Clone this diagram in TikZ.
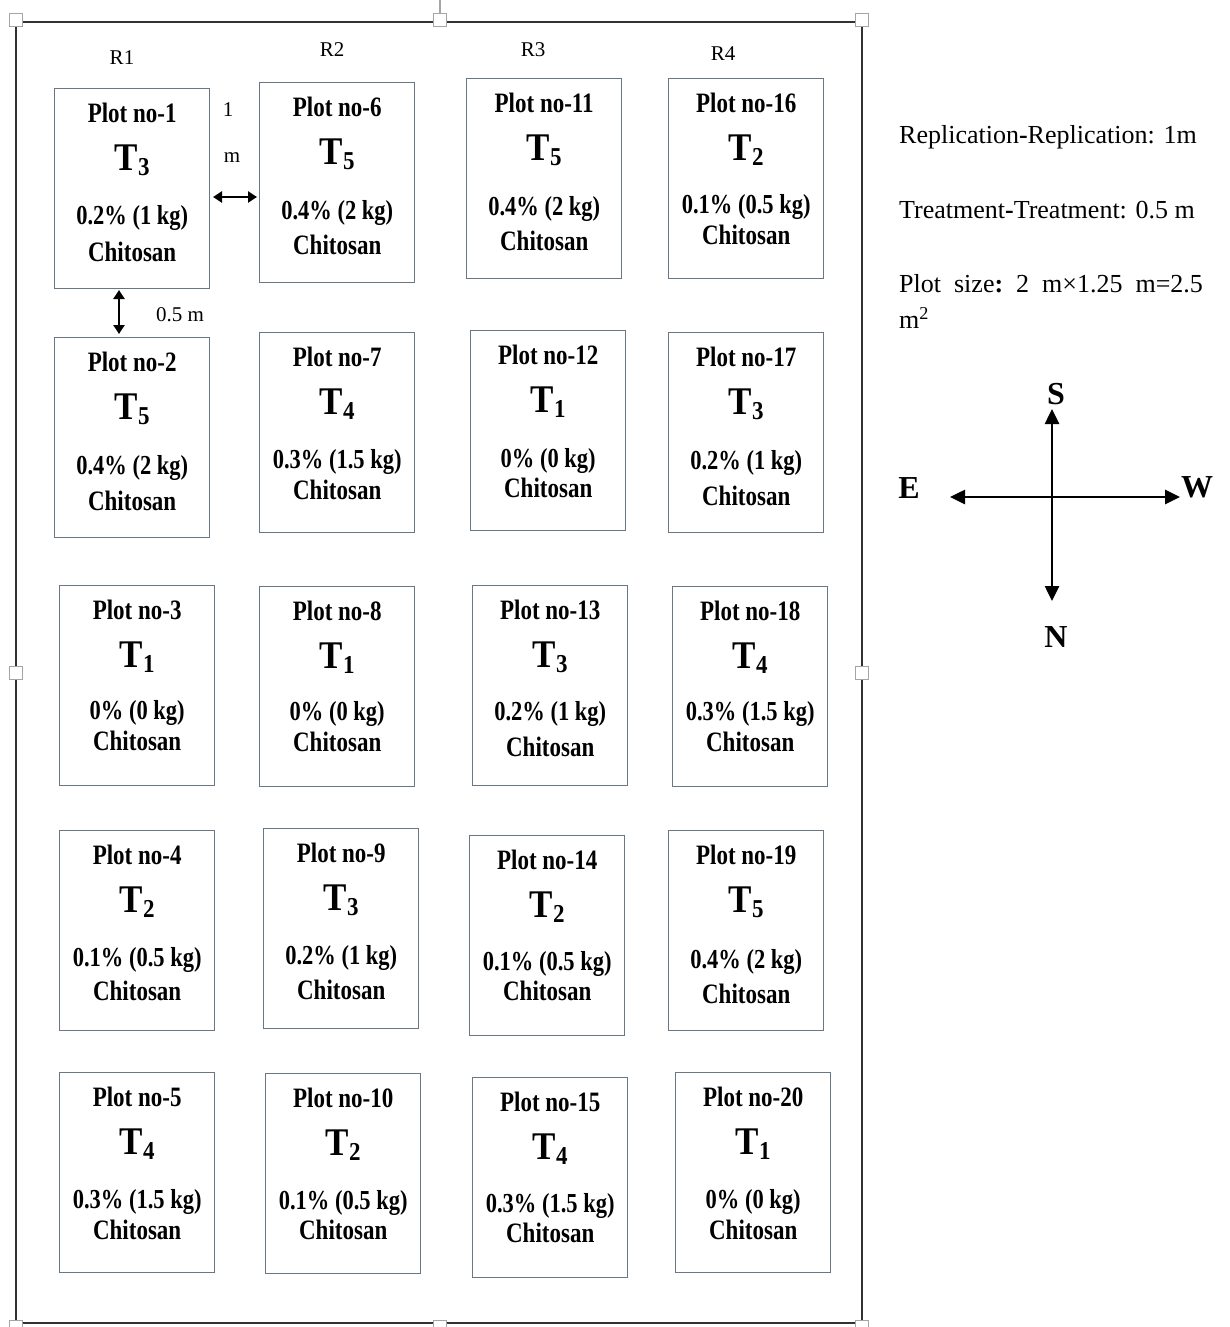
\documentclass[tikz,border=0pt]{standalone}
\usepackage{fontspec}
\setmainfont{Liberation Serif}
\usetikzlibrary{arrows.meta,calc}

\definecolor{plotedge}{RGB}{105,118,132}
\definecolor{frameline}{RGB}{50,50,50}
\definecolor{handlegray}{RGB}{165,165,165}

% bold, slightly tall lettering used inside the plot boxes
\newcommand{\tallbf}[2]{\scalebox{1}[1.22]{\fontsize{#1}{#1}\selectfont\bfseries #2}}
% treatment symbol T with its number set low
\newcommand{\treat}[1]{\scalebox{1}[1.12]{\fontsize{35}{35}\selectfont\bfseries T\raisebox{-0.12em}{\fontsize{23}{23}\selectfont #1}}}

\begin{document}
\begin{tikzpicture}[x=1pt,y=-1pt,
  plotbox/.style={draw=plotedge,line width=1.4pt,fill=white,anchor=north west,
    minimum width=155pt,minimum height=200pt,inner sep=0pt},
  boxtext/.style={inner sep=0pt,align=center},
  replabel/.style={inner sep=0pt,font=\fontsize{21}{21}\selectfont},
  sidetext/.style={inner sep=0pt,anchor=west,font=\fontsize{26}{26}\selectfont},
  dirlabel/.style={inner sep=0pt,font=\fontsize{32}{32}\selectfont\bfseries},
  framebox/.style={draw=frameline,line width=2.4pt},
  selhandle/.style={draw=handlegray,line width=1.3pt,fill=white,minimum size=13pt,inner sep=0pt},
  gaparrow/.style={line width=2.3pt,{Triangle[length=9pt,width=11pt]}-{Triangle[length=9pt,width=11pt]}},
  compassarrow/.style={line width=2.6pt,-{Triangle[length=15pt,width=14pt]}}
]
\useasboundingbox (0,0) rectangle (1229,1327);

% outer field boundary
\draw[framebox] (16,22) rectangle (862,1323);
\draw[handlegray,line width=1.3pt] (440,0) -- (440,14);
\node[selhandle] (hTL) at (16,20) {};
\node[selhandle] (hTM) at (440,20) {};
\node[selhandle] (hTR) at (862,20) {};
\node[selhandle] (hML) at (16,673) {};
\node[selhandle] (hMR) at (862,673) {};
\node[selhandle] (hBL) at (16,1327) {};
\node[selhandle] (hBM) at (440,1327) {};
\node[selhandle] (hBR) at (862,1327) {};

% replication labels
\node[replabel] (r1) at (122,58) {R1};
\node[replabel] (r2) at (332,50) {R2};
\node[replabel] (r3) at (533,50) {R3};
\node[replabel] (r4) at (723,54) {R4};

% plots: number / left / top / treatment / dose / dose offset / name offset
\foreach \n/\l/\t/\tr/\dose/\po/\co in {
  1/54/88/3/{0.2\% (1 kg)}/130/164,
  6/259/82/5/{0.4\% (2 kg)}/131/163,
  11/466/78/5/{0.4\% (2 kg)}/131/163,
  16/668/78/2/{0.1\% (0.5 kg)}/129/157,
  2/54/337/5/{0.4\% (2 kg)}/131/164,
  7/259/332/4/{0.3\% (1.5 kg)}/130/158,
  12/470/330/1/{0\% (0 kg)}/131/158,
  17/668/332/3/{0.2\% (1 kg)}/131/164,
  3/59/585/1/{0\% (0 kg)}/128/156,
  8/259/586/1/{0\% (0 kg)}/128/156,
  13/472/585/3/{0.2\% (1 kg)}/129/162,
  18/672/586/4/{0.3\% (1.5 kg)}/128/156,
  4/59/830/2/{0.1\% (0.5 kg)}/130/161,
  9/263/828/3/{0.2\% (1 kg)}/130/162,
  14/469/835/2/{0.1\% (0.5 kg)}/129/156,
  19/668/830/5/{0.4\% (2 kg)}/132/164,
  5/59/1072/4/{0.3\% (1.5 kg)}/130/158,
  10/265/1073/2/{0.1\% (0.5 kg)}/130/157,
  15/472/1077/4/{0.3\% (1.5 kg)}/129/156,
  20/675/1072/1/{0\% (0 kg)}/130/158}{
  \node[plotbox] (p\n) at (\l,\t) {};
  \node[boxtext] (pn\n) at ($(p\n.north)+(0,25)$) {\tallbf{23}{Plot no-\n}};
  \node[boxtext] (pt\n) at ($(p\n.north)+(0,72)$) {\treat{\tr}};
  \node[boxtext] (pd\n) at ($(p\n.north)+(0,\po)$) {\tallbf{22.5}{\dose}};
  \node[boxtext] (pc\n) at ($(p\n.north)+(0,\co)$) {\tallbf{23}{Chitosan}};
}

% spacing between replications and between treatments
\node[replabel] (onem1) at (228,110) {1};
\node[replabel] (onem2) at (232,158) {m};
\coordinate (ga) at (213,197);
\coordinate (gb) at (257,197);
\draw[gaparrow] (ga) -- (gb);
\coordinate (gc) at (119,290);
\coordinate (gd) at (119,334);
\draw[gaparrow] (gc) -- (gd);
\node[replabel] (halfm) at (180,315) {0.5 m};

% layout notes
\node[sidetext] (note1) at (899,137) {Replication{\bfseries -}Replication: 1m};
\node[sidetext] (note2) at (899,210) {Treatment{\bfseries -}Treatment: 0.5 m};
\node[sidetext] (note3) at (899,284) {Plot\ \ size{\bfseries :}\ \ 2\ \ m×1.25\ \ m=2.5};
\node[sidetext] (note4) at (899,318) {m\textsuperscript{2}};

% compass
\coordinate (cc) at (1052,497);
\coordinate (tipS) at (1052,409);
\coordinate (tipN) at (1052,601);
\coordinate (tipE) at (950,497);
\coordinate (tipW) at (1180,497);
\draw[compassarrow] (cc) -- (tipS);
\draw[compassarrow] (cc) -- (tipN);
\draw[compassarrow] (cc) -- (tipE);
\draw[compassarrow] (cc) -- (tipW);
\node[dirlabel] (dS) at (1056,394) {S};
\node[dirlabel] (dN) at (1056,637) {N};
\node[dirlabel] (dE) at (909,488) {E};
\node[dirlabel] (dW) at (1197,487) {W};
\end{tikzpicture}
\end{document}
